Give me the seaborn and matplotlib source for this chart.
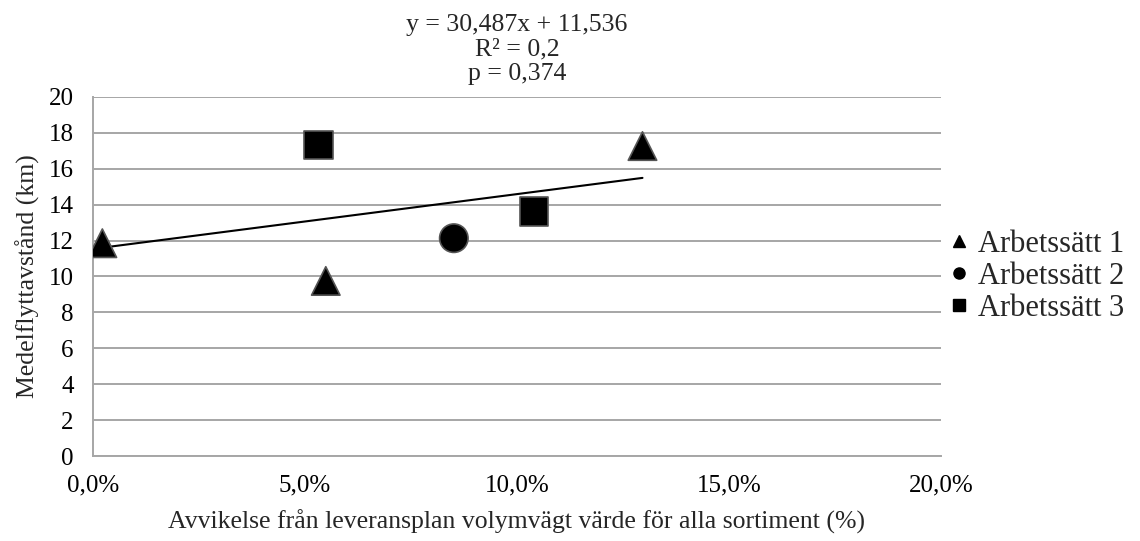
import matplotlib
matplotlib.use("Agg")
import matplotlib.pyplot as plt
from matplotlib.lines import Line2D
from matplotlib.ticker import FuncFormatter, MultipleLocator
import numpy as np
import pandas as pd
import seaborn as sns

# Observations: deviation from delivery plan (fraction) vs. mean haul distance (km)
groups = ["Arbetssätt 1", "Arbetssätt 1", "Arbetssätt 1",
          "Arbetssätt 2",
          "Arbetssätt 3", "Arbetssätt 3"]
avvikelse = [0.0022, 0.0549, 0.1296, 0.0851, 0.0532, 0.1040]
medelflytt = [11.85, 9.75, 17.26, 12.13, 17.31, 13.62]

# Linear trend as reported
slope = 30.487
intercept = 11.536
r2 = 0.2
p_value = 0.374

x_ticks = [0.0, 0.05, 0.10, 0.15, 0.20]

df = pd.DataFrame({"grupp": groups, "x": avvikelse, "y": medelflytt})

sns.set_theme(style="white")
plt.rcParams["font.family"] = ["Liberation Serif", "DejaVu Serif"]

fig = plt.figure(figsize=(11.4, 5.41), dpi=100)
ax = fig.add_axes([0.0816, 0.157, 0.7438, 0.664])

ax.set_xlim(0, 0.20)
ax.set_ylim(0, 20)
ax.yaxis.set_major_locator(MultipleLocator(2))
ax.set_xticks(x_ticks)
ax.xaxis.set_major_formatter(FuncFormatter(lambda v, _: f"{v*100:.1f}%".replace(".", ",")))
ax.grid(axis="y", color="#a6a6a6", linewidth=1.4)
ax.grid(axis="x", visible=False)
ax.set_axisbelow(True)

for side in ["top", "right"]:
    ax.spines[side].set_visible(False)
for side in ["left", "bottom"]:
    ax.spines[side].set_color("#a6a6a6")
    ax.spines[side].set_linewidth(1.4)

# trend line over the observed x-range
xs = np.array([min(avvikelse), max(avvikelse)])
ax.plot(xs, intercept + slope * xs, color="black", linewidth=1.5, zorder=2)

markers = {"Arbetssätt 1": "^", "Arbetssätt 2": "o", "Arbetssätt 3": "s"}
sns.scatterplot(data=df, x="x", y="y", style="grupp", markers=markers,
                color="black", edgecolor="#555555", linewidth=1.2,
                s=420, legend=False, ax=ax, zorder=3)

ax.tick_params(axis="x", length=0, labelsize=18, colors="black", pad=13)
ax.tick_params(axis="y", length=0, labelsize=18, colors="black", pad=14)
ax.set_xlabel("Avvikelse från leveransplan volymvägt värde för alla sortiment (%)",
              fontsize=18.5, labelpad=10)
ax.set_ylabel("Medelflyttavstånd (km)", fontsize=18.5, labelpad=6)

title = (f"y = {slope:.3f}x + {intercept:.3f}".replace(".", ",") + "\n"
         + f"R² = {r2}".replace(".", ",") + "\n"
         + f"p = {p_value}".replace(".", ","))
ax.set_title(title, fontsize=18.5, linespacing=1.15, pad=12)

handles = [Line2D([], [], linestyle="none", marker=m, color="black",
                  markersize=8, label=k) for k, m in markers.items()]
ax.legend(handles=handles, loc="center left", bbox_to_anchor=(0.975, 0.5),
          frameon=False, fontsize=22, handletextpad=0.2, labelspacing=0.1,
          handlelength=0.8)

fig.savefig("out.png", dpi=100)
